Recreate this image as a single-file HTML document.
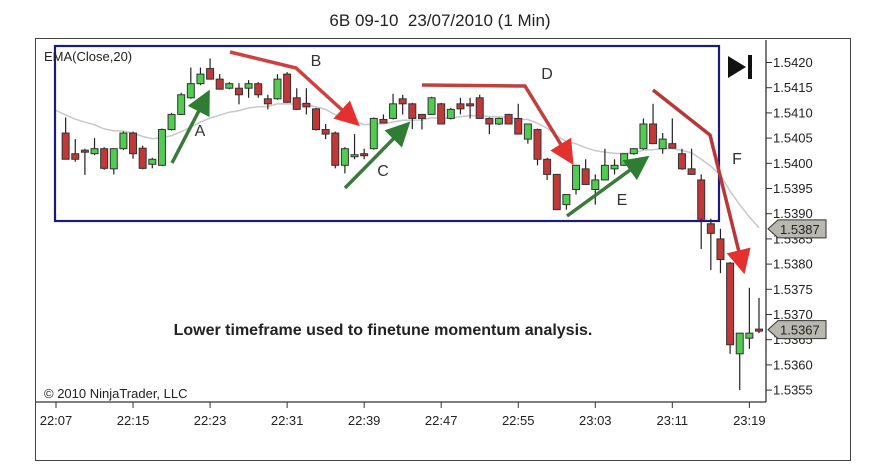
<!DOCTYPE html>
<html><head><meta charset="utf-8">
<style>
html,body{margin:0;padding:0;background:#fff;}
svg{display:block;font-family:"Liberation Sans",Arial,sans-serif;}
</style></head>
<body>
<svg id="chart" width="872" height="476" viewBox="0 0 872 476">
  <rect x="35.5" y="38.5" width="815" height="422" fill="#fff" stroke="#444" stroke-width="1"/>
  <text x="440" y="26" text-anchor="middle" font-size="17" fill="#222">6B 09-10&#160; 23/07/2010 (1 Min)</text>
  <g id="grid"></g>
  <path id="ema" fill="none" stroke="#c8c8c8" stroke-width="1.5"/>
  <g id="candles"></g>
  <rect x="55" y="46" width="664" height="175" fill="none" stroke="#1a1a80" stroke-width="2.2"/>
  <g id="axes"></g>
  <text x="44" y="61" font-size="13" fill="#222">EMA(Close,20)</text>
  <g>
    <polygon points="728,56 746,67 728,78" fill="#111"/>
    <rect x="748" y="55" width="4" height="24" fill="#111"/>
  </g>
  <text x="44" y="398" font-size="13" fill="#222">© 2010 NinjaTrader, LLC</text>
  <text x="383" y="335" text-anchor="middle" font-size="16" font-weight="bold" fill="#222">Lower timeframe used to finetune momentum analysis.</text>
  <defs>
    <marker id="ag" markerWidth="7" markerHeight="7" refX="4" refY="3.5" orient="auto" markerUnits="strokeWidth"><path d="M0,0 L7,3.5 L0,7 z" fill="#2e7d32"/></marker>
    <marker id="ar" markerWidth="7" markerHeight="7" refX="4" refY="3.5" orient="auto" markerUnits="strokeWidth"><path d="M0,0 L7,3.5 L0,7 z" fill="#e53030"/></marker>
  </defs>
  <g>
    <line x1="172" y1="163" x2="205" y2="99" stroke="#3a7a3a" stroke-width="3.5" marker-end="url(#ag)"/>
    <line x1="345" y1="188" x2="403" y2="129" stroke="#3a7a3a" stroke-width="3.5" marker-end="url(#ag)"/>
    <line x1="567" y1="216" x2="641" y2="162" stroke="#3a7a3a" stroke-width="3.5" marker-end="url(#ag)"/>
    <polyline points="230,52 296,68 352,119" fill="none" stroke="#d04040" stroke-width="3.5" marker-end="url(#ar)"/>
    <polyline points="422,85 525,86 568,156" fill="none" stroke="#c04040" stroke-width="3.5" marker-end="url(#ar)"/>
    <polyline points="653,90 710,135 742,264" fill="none" stroke="#b83838" stroke-width="3.5" marker-end="url(#ar)"/>
    <text x="200" y="136" text-anchor="middle" font-size="16" fill="#333">A</text>
    <text x="316" y="66" text-anchor="middle" font-size="16" fill="#333">B</text>
    <text x="383" y="176" text-anchor="middle" font-size="16" fill="#333">C</text>
    <text x="547" y="79" text-anchor="middle" font-size="16" fill="#333">D</text>
    <text x="622" y="205" text-anchor="middle" font-size="16" fill="#333">E</text>
    <text x="737" y="164" text-anchor="middle" font-size="16" fill="#333">F</text>
  </g>
</svg>
<script>
const opens = [1.54060,1.54019,1.54026,1.54019,1.54029,1.53989,1.54029,1.54060,1.54030,1.53998,1.53996,1.54067,1.54097,1.54130,1.54158,1.54188,1.54167,1.54149,1.54149,1.54149,1.54158,1.54128,1.54128,1.54177,1.54130,1.54119,1.54108,1.54067,1.54060,1.53996,1.54016,1.54019,1.54029,1.54087,1.54089,1.54128,1.54118,1.54097,1.54097,1.54118,1.54089,1.54118,1.54118,1.54130,1.54089,1.54078,1.54097,1.54089,1.54048,1.54067,1.54008,1.53978,1.53918,1.53948,1.53989,1.53948,1.53967,1.53989,1.53996,1.54019,1.54029,1.54078,1.54029,1.54039,1.54019,1.53989,1.53967,1.53880,1.53850,1.53802,1.53622,1.53653,1.53671];
const highs = [1.54091,1.54048,1.54029,1.54050,1.54032,1.54030,1.54063,1.54063,1.54035,1.54011,1.54069,1.54100,1.54140,1.54190,1.54190,1.54208,1.54177,1.54161,1.54159,1.54165,1.54161,1.54136,1.54177,1.54181,1.54149,1.54149,1.54110,1.54078,1.54063,1.54032,1.54058,1.54029,1.54091,1.54097,1.54138,1.54136,1.54120,1.54098,1.54132,1.54120,1.54110,1.54130,1.54130,1.54136,1.54091,1.54091,1.54098,1.54118,1.54079,1.54069,1.54011,1.53979,1.53939,1.53997,1.54008,1.53978,1.54029,1.54008,1.54020,1.54030,1.54089,1.54118,1.54060,1.54089,1.54029,1.54029,1.53978,1.53890,1.53870,1.53804,1.53663,1.53753,1.53733];
const lows = [1.54008,1.54003,1.53977,1.54016,1.53987,1.53978,1.54026,1.54009,1.53988,1.53990,1.53995,1.54065,1.54096,1.54128,1.54155,1.54166,1.54147,1.54147,1.54117,1.54130,1.54130,1.54107,1.54126,1.54120,1.54106,1.54097,1.54065,1.54048,1.53990,1.53980,1.54008,1.54008,1.54027,1.54079,1.54087,1.54097,1.54068,1.54067,1.54096,1.54077,1.54087,1.54097,1.54089,1.54088,1.54058,1.54076,1.54077,1.54057,1.54039,1.53996,1.53967,1.53907,1.53908,1.53938,1.53958,1.53918,1.53966,1.53978,1.53995,1.54017,1.54027,1.54038,1.54019,1.54029,1.53987,1.53977,1.53830,1.53788,1.53782,1.53622,1.53550,1.53632,1.53663];
const closes = [1.54008,1.54008,1.54025,1.54029,1.53990,1.54029,1.54060,1.54019,1.53990,1.54008,1.54067,1.54097,1.54136,1.54158,1.54177,1.54167,1.54147,1.54158,1.54136,1.54158,1.54136,1.54118,1.54167,1.54121,1.54107,1.54112,1.54067,1.54058,1.53996,1.54029,1.54017,1.54018,1.54089,1.54080,1.54118,1.54118,1.54089,1.54089,1.54130,1.54078,1.54107,1.54108,1.54117,1.54089,1.54078,1.54089,1.54078,1.54058,1.54078,1.54008,1.53978,1.53908,1.53938,1.53996,1.53958,1.53967,1.53996,1.53996,1.54019,1.54029,1.54078,1.54039,1.54048,1.54030,1.53989,1.53978,1.53889,1.53861,1.53809,1.53640,1.53663,1.53663,1.53670];
const emaSeed = [1.54105];
const priceTicks = [1.5420,1.5415,1.5410,1.5405,1.5400,1.5395,1.5390,1.5385,1.5380,1.5375,1.5370,1.5365,1.5360,1.5355];
const timeTicks = ["22:07","22:15","22:23","22:31","22:39","22:47","22:55","23:03","23:11","23:19"];
const markerPrices = [1.5387, 1.5367];

const NS = "http://www.w3.org/2000/svg";
function yS(p){ return 62.5 + (1.5420 - p) / 0.0005 * 25.2; }
function xS(m){ return 56 + 9.63 * m; } // minutes after 22:07
function mk(tag, attrs, parent){
  const e = document.createElementNS(NS, tag);
  for (const k in attrs) e.setAttribute(k, attrs[k]);
  parent.appendChild(e);
  return e;
}
const cg = document.getElementById("candles");
for (let i = 0; i < opens.length; i++){
  const x = xS(i + 1);
  const o = opens[i], c = closes[i], h = highs[i], l = lows[i];
  const g = mk("g", {}, cg);
  
  
  mk("line", {x1:x, x2:x, y1:yS(h), y2:yS(l), stroke:"#222", "stroke-width":1.2}, g);
  const top = yS(Math.max(o, c)), bot = yS(Math.min(o, c));
  const up = c >= o;
  mk("rect", {x:x-3.5, y:top, width:7, height:Math.max(bot-top, 2), fill: up ? "#50cc50" : "#c03838", stroke:"#333", "stroke-width":1}, g);
}
// EMA
let ema = emaSeed[0], d = "";
const k = 2 / 21;
for (let i = 0; i < closes.length; i++){
  ema = ema + k * (closes[i] - ema);
  d += "L" + xS(i + 1).toFixed(1) + "," + yS(ema).toFixed(1);
}
document.getElementById("ema").setAttribute("d", "M" + xS(0) + "," + yS(emaSeed[0]).toFixed(1) + d);
// axes
const ax = document.getElementById("axes");
mk("line", {x1:766, x2:766, y1:40, y2:402, stroke:"#333", "stroke-width":1.3}, ax);
mk("line", {x1:36, x2:766, y1:402, y2:402, stroke:"#333", "stroke-width":1.3}, ax);
priceTicks.forEach(p => {
  const y = yS(p);
  const t = mk("line", {x1:766, x2:772, y1:y, y2:y, stroke:"#333"}, ax);
  
  
  const lb = mk("text", {x:773, y:y+4.5, "font-size":13, fill:"#222"}, ax);
  lb.textContent = p.toFixed(4);
  
  
});
timeTicks.forEach((t, i) => {
  const x = xS(i * 8);
  mk("line", {x1:x, x2:x, y1:402, y2:408, stroke:"#333"}, ax);
  const lb = mk("text", {x:x, y:425, "font-size":13, fill:"#222", "text-anchor":"middle"}, ax);
  lb.textContent = t;
  
  
});
markerPrices.forEach(p => {
  const y = yS(p);
  const g = mk("g", {}, ax);
  
  
  mk("polygon", {points:`768,${y} 778,${y-9} 826,${y-9} 826,${y+9} 778,${y+9}`, fill:"#b8b8b0", stroke:"#333"}, g);
  const lb = mk("text", {x:780, y:y+5, "font-size":13, fill:"#222"}, g);
  lb.textContent = p.toFixed(4);
});
</script>
</body></html>
